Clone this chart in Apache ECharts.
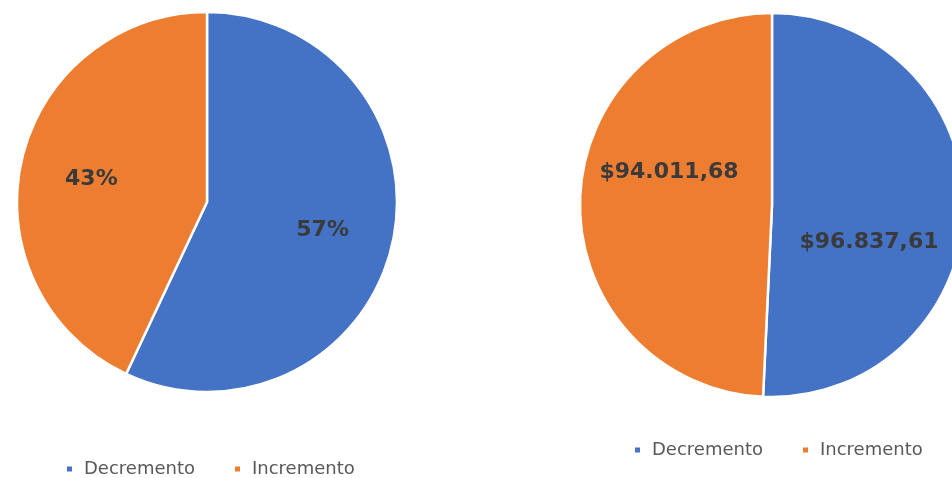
<!DOCTYPE html>
<html>
<head>
<meta charset="utf-8">
<script src="https://cdn.jsdelivr.net/npm/echarts@6/dist/echarts.min.js"></script>
<style>
html,body{margin:0;padding:0;background:#fff;}
#c{width:952px;height:478px;}
</style>
</head>
<body>
<div id="c"></div>
<script>
const categories = ['Decremento', 'Incremento'];
const percentValues = [57, 43];
const amountValues = [96837.61, 94011.68];
const colors = ['#4472C4', '#ED7D31'];

function fmtMoney(v) {
  const parts = v.toFixed(2).split('.');
  const intPart = parts[0].replace(/\B(?=(\d{3})+(?!\d))/g, '.');
  return '$' + intPart + ',' + parts[1];
}

const leftOffsets = [[20, 7], [-20, -1]];
const rightOffsets = [[-2, 35], [-4, -30]];

const labelStyle = {
  show: true,
  position: 'inside',
  color: '#3a3a3a',
  fontFamily: 'DejaVu Sans',
  fontWeight: 'bold',
  fontSize: 22
};

const legendText = {fontFamily: 'DejaVu Sans', fontSize: 18, color: '#595959', padding: [0, 0, 0, 6]};

const chart = echarts.init(document.getElementById('c'), null, {renderer: 'canvas'});
chart.setOption({
  animation: false,
  color: colors,
  legend: [
    {
      left: 60, top: 455,
      data: categories,
      icon: 'rect', itemWidth: 7, itemHeight: 7, itemGap: 38,
      textStyle: legendText
    },
    {
      left: 628, top: 436,
      data: categories,
      icon: 'rect', itemWidth: 7, itemHeight: 7, itemGap: 38,
      textStyle: legendText
    }
  ],
  series: [
    {
      type: 'pie',
      center: [207, 202],
      radius: 190,
      startAngle: 90,
      clockwise: true,
      avoidLabelOverlap: false,
      itemStyle: {borderColor: '#fff', borderWidth: 2.5},
      label: Object.assign({}, labelStyle, {formatter: p => p.value + '%'}),
      labelLine: {show: false},
      data: categories.map((n, i) => ({
        name: n, value: percentValues[i],
        label: {offset: leftOffsets[i]}
      }))
    },
    {
      type: 'pie',
      center: [772, 205],
      radius: 192,
      startAngle: 90,
      clockwise: true,
      avoidLabelOverlap: false,
      itemStyle: {borderColor: '#fff', borderWidth: 2.5},
      label: Object.assign({}, labelStyle, {formatter: p => fmtMoney(p.value)}),
      labelLine: {show: false},
      data: categories.map((n, i) => ({
        name: n, value: amountValues[i],
        label: {offset: rightOffsets[i]}
      }))
    }
  ]
});
</script>
</body>
</html>
